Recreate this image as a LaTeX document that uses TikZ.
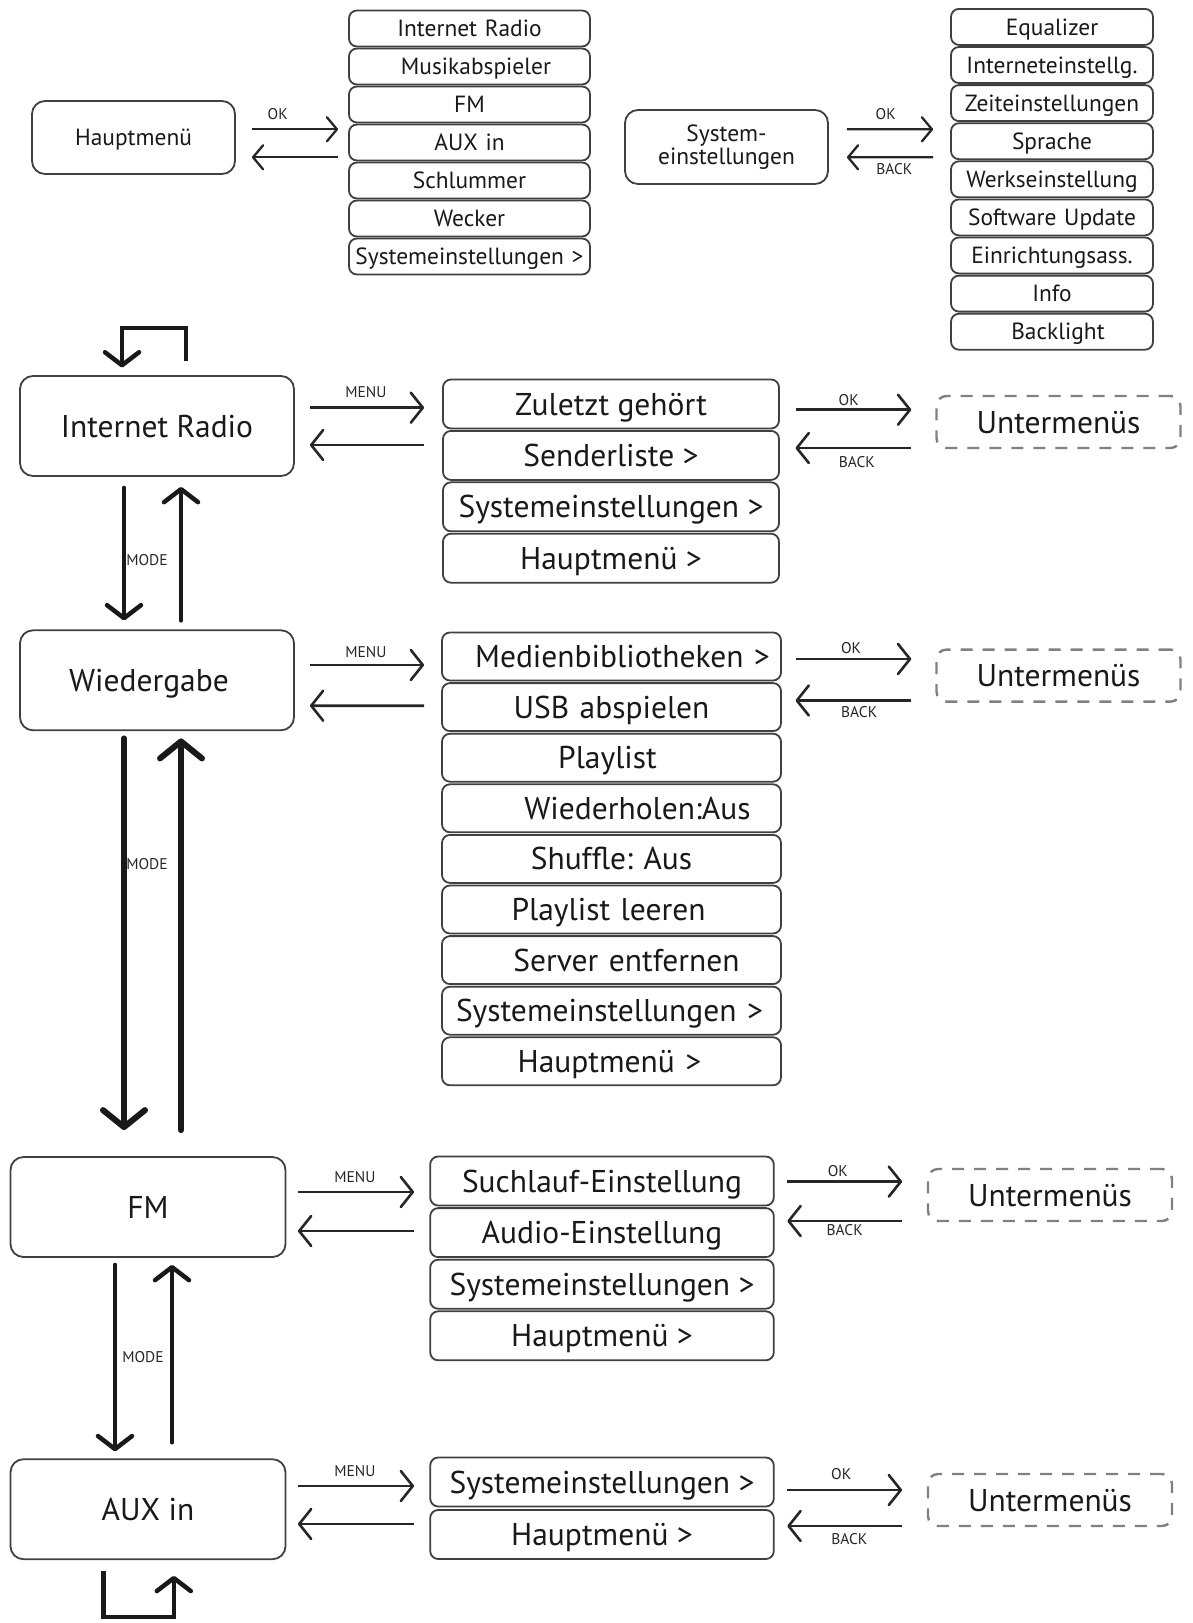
\documentclass[tikz,border=0pt]{standalone}
\usepackage{fontspec}
\setmainfont{PT Sans}
\usetikzlibrary{arrows.meta,calc}
\frenchspacing
\begin{document}
\begin{tikzpicture}[x=1pt,y=-1pt,
  box/.style={draw=black!75, line width=1.8pt, rounded corners=13pt, inner sep=0pt, align=center, text=black!90},
  item/.style={draw=black!75, line width=1.8pt, rounded corners=8pt, inner sep=0pt, text=black!90},
  ftop/.style={font=\fontsize{23.4}{25}\selectfont, text height=19pt, text depth=2.6pt},
  fbig/.style={font=\fontsize{31.5}{33}\selectfont, text height=25.5pt, text depth=3.5pt},
  dbox/.style={draw=black!50, line width=2.4pt, dash pattern=on 12pt off 10pt, rounded corners=10pt, inner sep=0pt, minimum width=244pt, minimum height=52pt, font=\fontsize{31.5}{33}\selectfont, text height=25.5pt, text depth=3.5pt, text=black!90},
  lbl/.style={font=\fontsize{15.5}{17}\selectfont, inner sep=0pt, text=black!85},
  arrS/.style={draw=black!85, line width=2.3pt, -{Straight Barb[length=10pt,width=24pt,round]}},
  arrM/.style={draw=black!85, line width=2.6pt, -{Straight Barb[length=12pt,width=30pt,round]}},
  modeA/.style={draw=black!90, line width=4.5pt, line cap=round, -{Straight Barb[length=13pt,width=34pt,round]}},
  bigA/.style={draw=black!90, line width=6pt, line cap=round, -{Straight Barb[length=17pt,width=42pt,round]}},
]
\useasboundingbox (0,0) rectangle (1193,1623);
\fill[white] (0,0) rectangle (1193,1623);

% ---------------- top: Hauptmenü ----------------
\node[box, ftop, minimum width=203pt, minimum height=73pt] (hm) at (133.5,137.5) {Hauptmenü};
\foreach \t/\d [count=\i] in {Internet Radio/0, Musikabspieler/13, FM/0, AUX in/0, Schlummer/0, Wecker/0, Systemeinstellungen >/0}
  \node[item, ftop, minimum width=241pt, minimum height=36pt, text width=241pt, align=center] (l1\i) at (469.5,{28.5+38*(\i-1)}) {\hspace*{\d pt}\t};
\draw[arrS] ($(hm.east)+(16,-8.2)$) -- node[lbl,pos=.3,yshift=15pt] (ok0) {OK} ($(l14.west)+(-10,-13.2)$);
\draw[arrS] ($(l14.west)+(-10,14.8)$) -- ($(hm.east)+(16,19.8)$);

% ---------------- top: Systemeinstellungen ----------------
\node[box, font={\fontsize{23.4}{23.5}\selectfont}, minimum width=203pt, minimum height=74pt] (se) at (726.5,147) {System-\\einstellungen};
\foreach \t/\d [count=\i] in {Equalizer/0, Interneteinstellg./0, Zeiteinstellungen/0, Sprache/0, Werkseinstellung/0, Software Update/0, Einrichtungsass./0, Info/0, Backlight/12}
  \node[item, ftop, minimum width=202pt, minimum height=36pt, text width=202pt, align=center] (l2\i) at (1052,{26.9+38.1*(\i-1)}) {\hspace*{\d pt}\t};
\draw[arrS] ($(se.east)+(18,-17.7)$) -- node[lbl,pos=.45,yshift=15pt] (ok1) {OK} ($(l24.west)+(-17,-11.9)$);
\draw[arrS] ($(l24.west)+(-17,16.1)$) -- node[lbl,pos=.45,yshift=-12pt] (bk1) {BACK} ($(se.east)+(18,10.3)$);

% ---------------- Internet Radio ----------------
\node[box, fbig, minimum width=274pt, minimum height=100pt] (ir) at (157,426) {Internet Radio};
\foreach \t [count=\i] in {Zuletzt gehört, Senderliste >, Systemeinstellungen >, Hauptmenü >}
  \node[item, fbig, minimum width=336pt, minimum height=49pt] (r\i) at (611,{404+51.4*(\i-1)}) {\t};
\node[dbox] (um1) at (1058.5,422) {Untermenüs};
\draw[arrM] ($(ir.east)+(15,-18.3)$) -- node[lbl,pos=.49,yshift=16pt] (mn1) {MENU} ($(r1.west)+(-18,3.7)$);
\draw[arrM] ($(r2.west)+(-18,-10.4)$) -- ($(ir.east)+(15,19)$);
\draw[arrM] ($(r1.east)+(15.6,5.7)$) -- node[lbl,pos=.46,yshift=10pt] (ok2) {OK} ($(um1.west)+(-24,-12.3)$);
\draw[arrM] ($(um1.west)+(-24,26)$) -- node[lbl,pos=.47,yshift=-14pt] (bk2) {BACK} ($(r2.east)+(15.6,-7.4)$);
\draw[modeA, line cap=butt] ($(ir.north)+(29,-14)$) |- ($(ir.north)+(-35,-47)$) -- ($(ir.north)+(-35,-7.6)$);

% ---------------- Wiedergabe ----------------
\node[box, fbig, minimum width=274pt, minimum height=100pt, text width=274pt] (wg) at (157,680.3) {\hspace*{-16pt}Wiedergabe};
\foreach \t/\d [count=\i] in {Medienbibliotheken >/22, USB abspielen/0, Playlist/-8, Wiederholen:Aus/52, Shuffle: Aus/0, Playlist leeren/-6, Server entfernen/30, Systemeinstellungen >/-4, Hauptmenü >/-4}
  \node[item, fbig, minimum width=339pt, minimum height=48pt, text width=339pt, align=center] (w\i) at (611.5,{656.5+50.6*(\i-1)}) {\hspace*{\d pt}\t};
\node[dbox] (um2) at (1058.5,675.6) {Untermenüs};
\draw[arrM] ($(wg.east)+(15,-15.3)$) -- node[lbl,pos=.49,yshift=13pt] (mn2) {MENU} ($(w1.west)+(-17,8.5)$);
\draw[arrM] ($(w2.west)+(-17,-1.4)$) -- ($(wg.east)+(15,25.4)$);
\draw[arrM] ($(w1.east)+(13.6,2.5)$) -- node[lbl,pos=.48,yshift=11pt] (ok3) {OK} ($(um2.west)+(-24,-16.6)$);
\draw[arrM] ($(um2.west)+(-24,24.9)$) -- node[lbl,pos=.45,yshift=-12pt] (bk3) {BACK} ($(w2.east)+(13.6,-6.6)$);

\node[lbl] (mo1) at ($(ir.south)+(-10,83)$) {MODE};
\draw[modeA] ($(ir.south)+(-33,11)$) -- ($(wg.north)+(-33,-9)$);
\draw[modeA] ($(wg.north)+(24,-9)$) -- ($(ir.south)+(24,10)$);

% ---------------- FM ----------------
\node[box, fbig, minimum width=275pt, minimum height=100pt] (fm) at (148,1207) {FM};
\foreach \t [count=\i] in {Suchlauf-Einstellung, Audio-Einstellung, Systemeinstellungen >, Hauptmenü >}
  \node[item, fbig, minimum width=343.6pt, minimum height=49pt] (f\i) at (602,{1181+51.6*(\i-1)}) {\t};
\node[dbox] (um3) at (1050,1195) {Untermenüs};
\draw[arrM] ($(fm.east)+(11.5,-15)$) -- node[lbl,pos=.49,yshift=14.5pt] (mn3) {MENU} ($(f1.west)+(-15.2,11)$);
\draw[arrM] ($(f2.west)+(-15.2,-1.6)$) -- ($(fm.east)+(11.5,24)$);
\draw[arrM] ($(f1.east)+(12.6,0.6)$) -- node[lbl,pos=.44,yshift=10.6pt] (ok4) {OK} ($(um3.west)+(-24.7,-13.4)$);
\draw[arrM] ($(um3.west)+(-24.7,26)$) -- node[lbl,pos=.5,yshift=-9pt] (bk4) {BACK} ($(f2.east)+(12.6,-11.6)$);

\node[lbl] (mo2) at ($(wg.south)+(-10,132.5)$) {MODE};
\draw[bigA] ($(wg.south)+(-33,7.2)$) -- ($(fm.north)+(-24,-26)$);
\draw[bigA] ($(fm.north)+(33,-26)$) -- ($(wg.south)+(24,7.2)$);

% ---------------- AUX in ----------------
\node[box, fbig, minimum width=275pt, minimum height=100pt] (aux) at (148,1509.2) {AUX in};
\foreach \t [count=\i] in {Systemeinstellungen >, Hauptmenü >}
  \node[item, fbig, minimum width=343.6pt, minimum height=49pt] (a\i) at (602,{1482+52.5*(\i-1)}) {\t};
\node[dbox] (um4) at (1050,1500) {Untermenüs};
\draw[arrM] ($(aux.east)+(11.5,-23.2)$) -- node[lbl,pos=.49,yshift=15pt] (mn4) {MENU} ($(a1.west)+(-15.2,4)$);
\draw[arrM] ($(a2.west)+(-15.2,-10.5)$) -- ($(aux.east)+(11.5,14.8)$);
\draw[arrM] ($(a1.east)+(12.6,8)$) -- node[lbl,pos=.47,yshift=15.5pt] (ok5) {OK} ($(um4.west)+(-24.7,-10)$);
\draw[arrM] ($(um4.west)+(-24.7,26)$) -- node[lbl,pos=.46,yshift=-12.6pt] (bk5) {BACK} ($(a2.east)+(12.6,-8.5)$);

\node[lbl] (mo3) at ($(fm.south)+(-5,99.5)$) {MODE};
\draw[modeA] ($(fm.south)+(-33,7)$) -- ($(aux.north)+(-33,-7)$);
\draw[modeA] ($(aux.north)+(24,-16)$) -- ($(fm.south)+(24,7)$);
\draw[modeA, line cap=butt] ($(aux.south)+(-44.5,11.3)$) |- ($(aux.south)+(25.8,56.7)$) -- ($(aux.south)+(25.8,15.7)$);
\end{tikzpicture}
\end{document}
